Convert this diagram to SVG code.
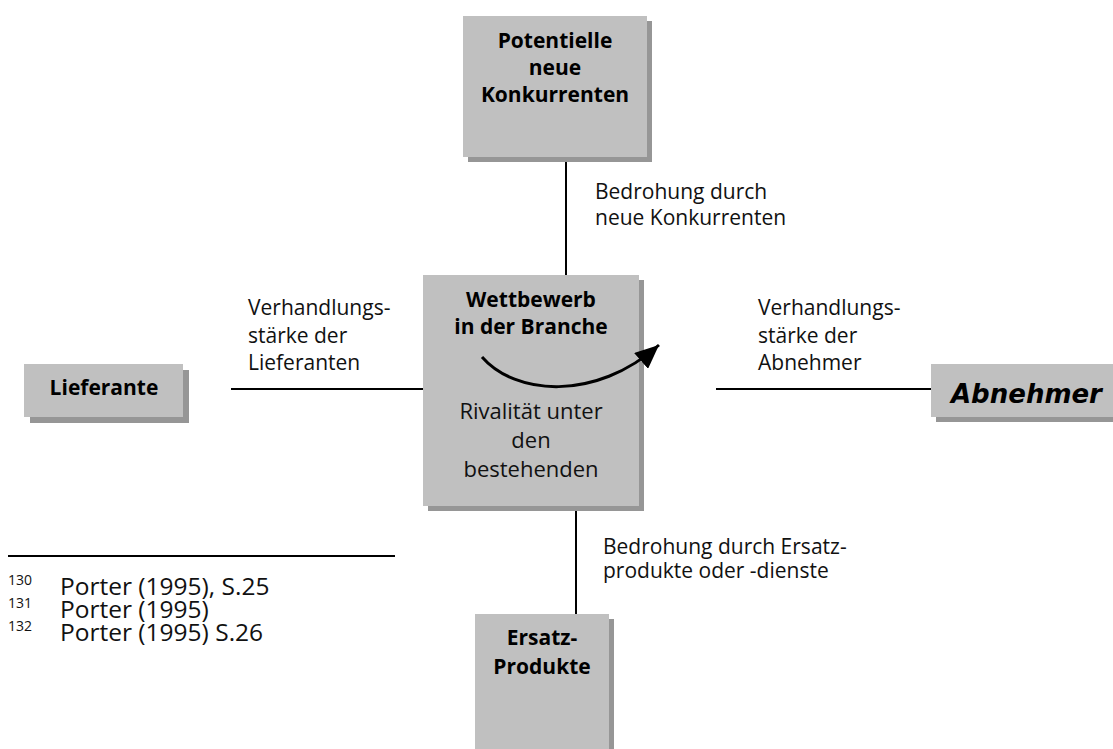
<svg xmlns="http://www.w3.org/2000/svg" width="1113" height="749" viewBox="0 0 1113 749">
  <style>
    .box { fill: #c0c0c0; }
    .shadow { fill: #969696; }
    .title { font-family: "Open Sans", "Noto Sans", sans-serif; font-weight: bold; font-size: 21px; fill: #000; text-anchor: middle; }
    .body { font-family: "Open Sans", "Noto Sans", sans-serif; font-size: 22px; fill: #111; text-anchor: middle; }
    .label { font-family: "Open Sans", "Noto Sans", sans-serif; font-size: 21px; fill: #111; }
    .foot { font-family: "Open Sans", "Noto Sans", sans-serif; font-size: 24.5px; fill: #111; }
    .fnum { font-family: "Open Sans", "Noto Sans", sans-serif; font-size: 14px; fill: #111; }
    .edge { stroke: #000; stroke-width: 2; fill: none; }
  </style>
  <defs>
    <marker id="arrowhead" markerWidth="8" markerHeight="7" refX="8" refY="3.5" orient="auto" markerUnits="strokeWidth">
      <path d="M0,0 L8,3.5 L0,7 Z" fill="#000"/>
    </marker>
  </defs>
  <rect width="1113" height="749" fill="#fff"/>

  <!-- connectors between the five forces -->
  <g id="connectors">
    <line class="edge" x1="566" y1="157" x2="566" y2="275"/>
    <line class="edge" x1="576" y1="511" x2="576" y2="614"/>
    <line class="edge" x1="231" y1="389" x2="423" y2="389"/>
    <line class="edge" x1="716" y1="389" x2="931" y2="389"/>
  </g>

  <!-- edge labels -->
  <g id="labels">
    <text class="label" x="595" y="199">Bedrohung durch</text>
    <text class="label" x="595" y="225">neue Konkurrenten</text>
    <text class="label" x="248" y="315">Verhandlungs-</text>
    <text class="label" x="248" y="343">stärke der</text>
    <text class="label" x="248" y="370">Lieferanten</text>
    <text class="label" x="758" y="315">Verhandlungs-</text>
    <text class="label" x="758" y="343">stärke der</text>
    <text class="label" x="758" y="370">Abnehmer</text>
    <text class="label" x="603" y="554">Bedrohung durch Ersatz-</text>
    <text class="label" x="603" y="578">produkte oder -dienste</text>
  </g>

  <g id="node-konkurrenten">
    <rect class="shadow" x="468" y="21" width="184" height="141"/>
    <rect class="box" x="463" y="16" width="184" height="141"/>
    <text class="title" x="555" y="48">Potentielle</text>
    <text class="title" x="555" y="75">neue</text>
    <text class="title" x="555" y="102">Konkurrenten</text>
  </g>

  <g id="node-wettbewerb">
    <rect class="shadow" x="428" y="280" width="216" height="231"/>
    <rect class="box" x="423" y="275" width="216" height="231"/>
    <text class="title" x="531" y="307">Wettbewerb</text>
    <text class="title" x="531" y="334">in der Branche</text>
    <path d="M482,357 C515,395 595,402 659,345" stroke="#000" stroke-width="3" fill="none" marker-end="url(#arrowhead)"/>
    <text class="body" x="531" y="419">Rivalität unter</text>
    <text class="body" x="531" y="448">den</text>
    <text class="body" x="531" y="477">bestehenden</text>
  </g>

  <g id="node-lieferante">
    <rect class="shadow" x="30" y="370" width="159" height="53"/>
    <rect class="box" x="24" y="364" width="159" height="53"/>
    <text class="title" x="104" y="395">Lieferante</text>
  </g>

  <g id="node-abnehmer">
    <rect class="shadow" x="936" y="369" width="177" height="53"/>
    <rect class="box" x="931" y="364" width="182" height="53"/>
    <text x="951" y="403" font-family="'DejaVu Sans', Verdana, sans-serif" font-weight="bold" font-style="italic" font-size="26" fill="#000">Abnehmer</text>
  </g>

  <g id="node-ersatz">
    <rect class="shadow" x="480" y="619" width="134" height="140"/>
    <rect class="box" x="475" y="614" width="134" height="140"/>
    <text class="title" x="542" y="645">Ersatz-</text>
    <text class="title" x="542" y="674">Produkte</text>
  </g>

  <!-- footnotes -->
  <g id="footnotes">
    <line x1="8" y1="556" x2="395" y2="556" stroke="#000" stroke-width="2"/>
    <text class="fnum" x="8" y="585">130</text>
    <text class="foot" x="60" y="595">Porter (1995), S.25</text>
    <text class="fnum" x="8" y="608">131</text>
    <text class="foot" x="60" y="618">Porter (1995)</text>
    <text class="fnum" x="8" y="631">132</text>
    <text class="foot" x="60" y="641">Porter (1995) S.26</text>
  </g>
</svg>
